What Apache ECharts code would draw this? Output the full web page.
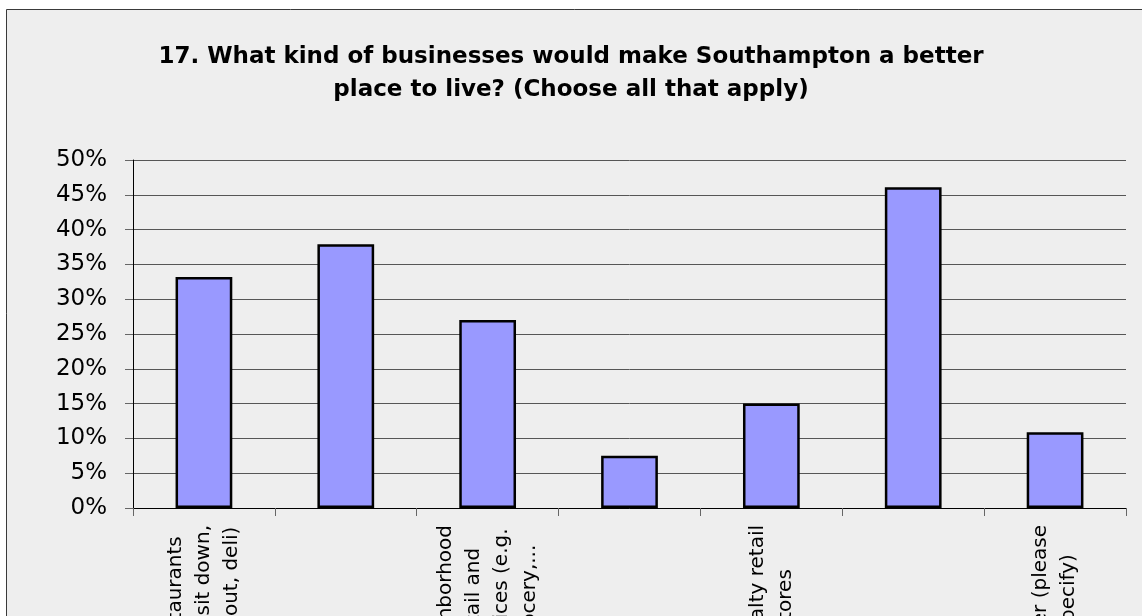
<!DOCTYPE html>
<html>
<head>
<meta charset="utf-8">
<script src="https://cdn.jsdelivr.net/npm/echarts@6/dist/echarts.min.js"></script>
<style>
html,body{margin:0;padding:0;background:#ffffff;}
#chart{width:1142px;height:616px;}
</style>
</head>
<body>
<div id="chart"></div>
<script>
const titleText = "17. What kind of businesses would make Southampton a better\nplace to live? (Choose all that apply)";
const categories = [
  "Restaurants\n(e.g. sit down,\ntake out, deli)",
  "Entertainment\n(movies,\nbowling,...)",
  "Neighborhood\nretail and\nservices (e.g.\ngrocery,...",
  "Professional\noffices",
  "Specialty retail\nstores",
  "Farmers\nmarket",
  "Other (please\nspecify)"
];
const values = [33.2, 37.9, 27.0, 7.5, 15.0, 46.1, 10.9];
const yTicks = {min: 0, max: 50, interval: 5};

const chart = echarts.init(document.getElementById('chart'), null, {renderer: 'canvas'});
chart.setOption({
  animation: false,
  backgroundColor: 'transparent',
  graphic: {
    elements: [{
      type: 'rect', z: -100, silent: true,
      shape: {x: 6.5, y: 9.5, width: 1300, height: 800},
      style: {fill: '#eeeeee', stroke: '#3a3a3a', lineWidth: 1}
    }]
  },
  title: {
    text: titleText,
    left: 566, top: 36, textAlign: 'center',
    textStyle: {fontFamily: 'DejaVu Sans', fontWeight: 'bold', fontSize: 23, lineHeight: 33, color: '#000'}
  },
  grid: {left: 133, right: 16, top: 160, bottom: 108, containLabel: false, outerBoundsMode: 'none'},
  xAxis: {
    type: 'category',
    data: categories,
    boundaryGap: true,
    axisLine: {lineStyle: {color: '#000', width: 1}},
    axisTick: {show: true, interval: 0, length: 8, lineStyle: {color: '#666'}},
    axisLabel: {
      interval: 1, rotate: 90, margin: 17, hideOverlap: false,
      fontFamily: 'DejaVu Sans', fontSize: 20, color: '#000', lineHeight: 28,
      formatter: function (v) { return v.split('\n').map(l => '{c|' + l + '}').join('\n'); },
      rich: {c: {align: 'center', fontFamily: 'DejaVu Sans', fontSize: 20, lineHeight: 28, color: '#000'}}
    }
  },
  yAxis: {
    type: 'value',
    min: yTicks.min, max: yTicks.max, interval: yTicks.interval,
    axisLine: {show: true, lineStyle: {color: '#000', width: 1}},
    axisTick: {show: true, length: 8, lineStyle: {color: '#666'}},
    axisLabel: {formatter: '{value}%', margin: 26, fontFamily: 'DejaVu Sans', fontSize: 23, color: '#000'},
    splitLine: {show: true, lineStyle: {color: '#555', width: 1}}
  },
  series: [{
    type: 'bar',
    data: values,
    barWidth: '40%',
    itemStyle: {color: '#9999ff', borderColor: '#000', borderWidth: 2.5}
  }]
});
</script>
</body>
</html>
